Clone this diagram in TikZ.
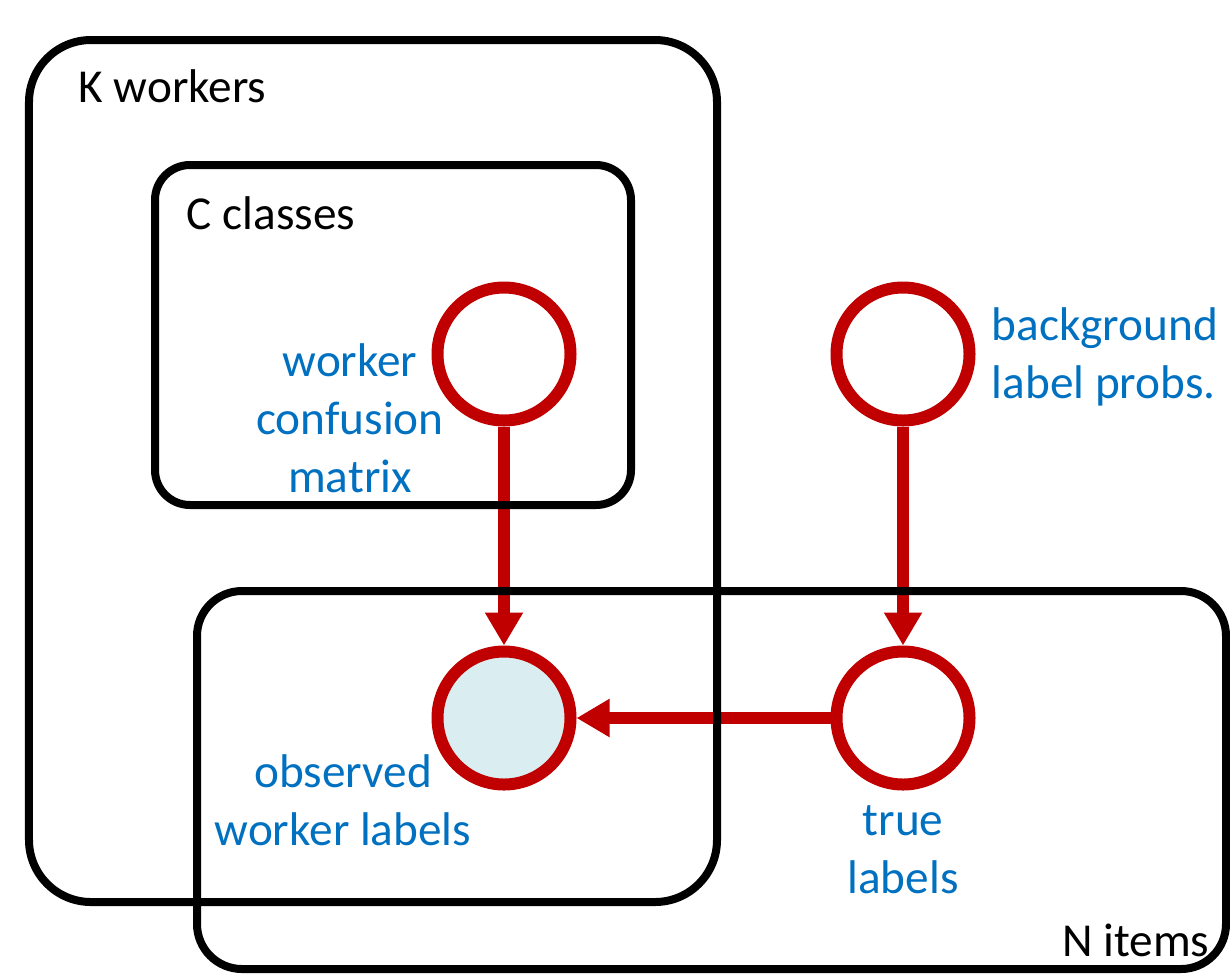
\documentclass[tikz,border=0pt]{standalone}
\usepackage{fontspec}
\setmainfont{Carlito}
\usetikzlibrary{arrows.meta}
\definecolor{plred}{RGB}{192,0,0}
\definecolor{plblue}{RGB}{0,112,192}
\definecolor{plfill}{RGB}{218,237,240}

\begin{document}
\begin{tikzpicture}[
  var/.style={circle,draw=plred,line width=0.12cm,minimum size=1.33cm,inner sep=0pt,fill=white},
  edge/.style={draw=plred,line width=0.12cm,-{Triangle[width=0.36cm,length=0.33cm]}},
  plate/.style={draw=black,line width=0.08cm},
  lbl/.style={text=plblue,align=center,inner sep=0pt},
  font=\fontsize{13.45}{16.5}\selectfont]
\useasboundingbox (0,0) rectangle (12.3,-9.75);
\node[var] (conf) at (5.04,-3.54) {};
\node[var] (bg) at (9.03,-3.54) {};
\node[var,fill=plfill] (obs) at (5.04,-7.18) {};
\node[var] (true) at (9.03,-7.18) {};
\draw[edge] (conf) -- (obs);
\draw[edge] (bg) -- (true);
\draw[edge] (true) -- (obs);
\draw[plate,rounded corners=0.62cm] (0.29,-0.40) rectangle (7.17,-9.02);
\draw[plate,rounded corners=0.35cm] (1.55,-1.65) rectangle (6.31,-5.05);
\draw[plate,rounded corners=0.45cm] (1.97,-5.91) rectangle (12.26,-9.69);
\node[anchor=base west,inner sep=0pt] (kw) at (0.78,-1.02) {K workers};
\node[anchor=base west,inner sep=0pt] (cc) at (1.86,-2.29) {C classes};
\node[anchor=base east,inner sep=0pt] (ni) at (12.10,-9.56) {N items};
\node[lbl] (conflbl) at (3.50,-4.18) {worker\\confusion\\matrix};
\node[lbl,anchor=west,align=left] (bglbl) at (9.91,-3.57) {background\\label probs.};
\node[lbl] (obslbl) at (3.43,-8.00) {observed\\worker labels};
\node[lbl] (truelbl) at (9.03,-8.50) {true\\labels};
\end{tikzpicture}
\end{document}
